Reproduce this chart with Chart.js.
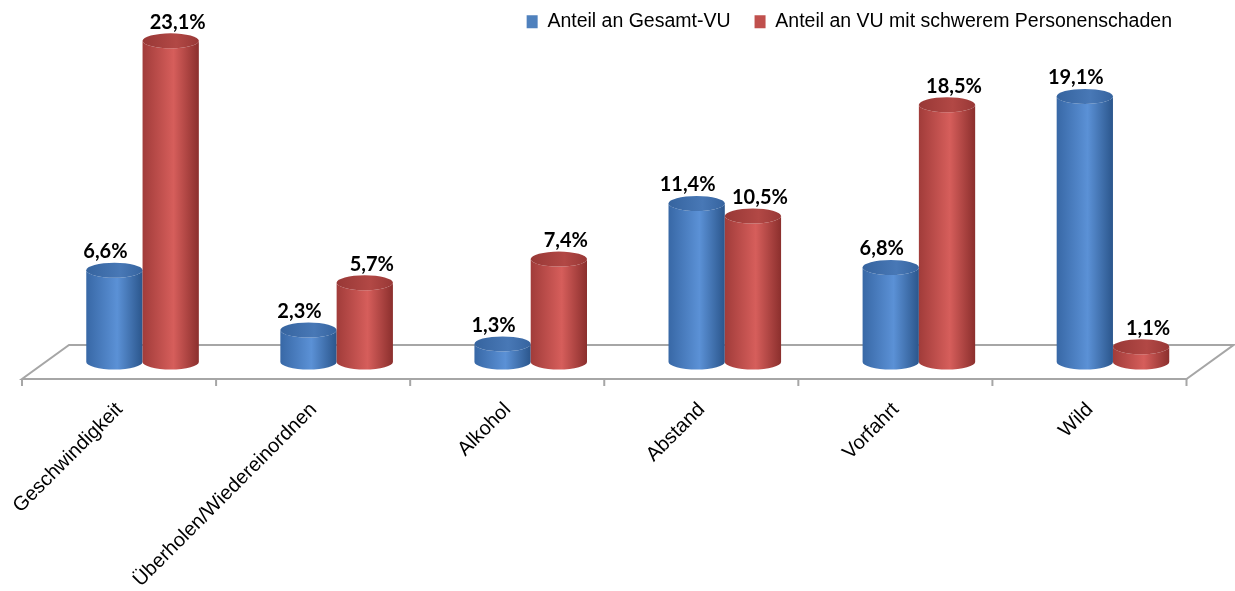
<!DOCTYPE html>
<html lang="de">
<head>
<meta charset="utf-8">
<title>Unfallursachen</title>
<script src="https://cdn.jsdelivr.net/npm/chart.js@4.4.1/dist/chart.umd.min.js"></script>
<style>
  html, body { margin: 0; padding: 0; background: #fff; }
  #wrap { width: 1235px; height: 591px; position: relative; }
</style>
</head>
<body>
<div id="wrap"><canvas id="chart"></canvas></div>
<script>
// categories and values (percent)
const categories = ['Geschwindigkeit', 'Überholen/Wiedereinordnen', 'Alkohol', 'Abstand', 'Vorfahrt', 'Wild'];
const seriesNames = ['Anteil an Gesamt-VU', 'Anteil an VU mit schwerem Personenschaden'];
const gesamtVU = [6.6, 2.3, 1.3, 11.4, 6.8, 19.1];
const schwererPS = [23.1, 5.7, 7.4, 10.5, 18.5, 1.1];

const labelFont = "'Liberation Sans', Arial, sans-serif";
const valueFont = "Lato, 'Open Sans', sans-serif";

// cylinder shading per series
const cylColors = [
  { left: '#3868a6', light: '#5b91d6', right: '#2b568c', cap: '#36649f', capLight: '#4878b6' },
  { left: '#a13c3a', light: '#d65e5b', right: '#8b2f2d', cap: '#983836', capLight: '#b24845' }
];
const legendColors = ['#4f81bd', '#c0504d'];

// fake 3D floor depth
const depthX = 23.5, depthY = 17;

function fmt(v) {
    return v.toFixed(1).replace('.', ',') + '%';
}

function drawCylinder(ctx, bar, c) {
    const cx = bar.x, rx = bar.width / 2, top = bar.y, base = bar.base, ry = 7.5;
    const g = ctx.createLinearGradient(cx - rx, 0, cx + rx, 0);
    g.addColorStop(0, c.left);
    g.addColorStop(0.55, c.light);
    g.addColorStop(1, c.right);
    ctx.beginPath();
    ctx.moveTo(cx - rx, top);
    ctx.lineTo(cx - rx, base);
    ctx.ellipse(cx, base, rx, ry, 0, Math.PI, 0, true);
    ctx.lineTo(cx + rx, top);
    ctx.ellipse(cx, top, rx, ry, 0, 0, Math.PI, false);
    ctx.closePath();
    ctx.fillStyle = g;
    ctx.fill();

    // top cap
    const cg = ctx.createLinearGradient(cx - rx, top, cx + rx, top);
    cg.addColorStop(0, c.cap);
    cg.addColorStop(0.6, c.capLight);
    cg.addColorStop(1, c.cap);
    ctx.beginPath();
    ctx.ellipse(cx, top, rx, ry, 0, 0, Math.PI * 2);
    ctx.fillStyle = cg;
    ctx.fill();
}

const cylinderPlugin = {
    id: 'cylinders',
    afterLayout(chart) {
        // legend sits a bit in from the right edge
        if (chart.legend) chart.legend.right -= 14;
    },
    beforeDatasetsDraw(chart) {
        const ctx = chart.ctx;
        const xs = chart.scales.x, ys = chart.scales.y;
        const y0 = ys.getPixelForValue(0);

        // floor
        ctx.save();
        ctx.strokeStyle = '#a6a6a6';
        ctx.lineWidth = 2;
        ctx.beginPath();
        ctx.moveTo(xs.left - depthX, y0 + depthY);
        ctx.lineTo(xs.right - depthX, y0 + depthY);
        ctx.lineTo(xs.right + depthX, y0 - depthY);
        ctx.lineTo(xs.left + depthX, y0 - depthY);
        ctx.closePath();
        ctx.stroke();

        // tick marks on the front edge
        const step = (xs.right - xs.left) / categories.length;
        ctx.beginPath();
        for (let i = 0; i <= categories.length; i++) {
            const tx = xs.getPixelForValue(0) - step / 2 + i * step - depthX;
            ctx.moveTo(tx, y0 + depthY);
            ctx.lineTo(tx, y0 + depthY + 7);
        }
        ctx.stroke();

        for (let i = 0; i < categories.length; i++) {
            chart.data.datasets.forEach((ds, d) => {
                const meta = chart.getDatasetMeta(d);
                if (meta.hidden) return;
                drawCylinder(ctx, meta.data[i], cylColors[d]);
            });
        }
        ctx.restore();
        return false; // skip the flat bars
    },
    afterDraw(chart) {
        const ctx = chart.ctx;
        const offs = [-9, 7];
        ctx.save();
        ctx.font = 'bold 20px ' + valueFont;
        ctx.fillStyle = '#000';
        ctx.textAlign = 'center';
        ctx.textBaseline = 'alphabetic';
        chart.data.datasets.forEach((ds, d) => {
            const meta = chart.getDatasetMeta(d);
            meta.data.forEach((bar, i) => {
                ctx.fillText(fmt(ds.data[i]), bar.x + offs[d], bar.y - 12);
            });
        });
        ctx.restore();
    }
};

new Chart(document.getElementById('chart'), {
    type: 'bar',
    data: {
        labels: categories,
        datasets: [
            { label: seriesNames[0], data: gesamtVU, backgroundColor: legendColors[0], borderWidth: 0 },
            { label: seriesNames[1], data: schwererPS, backgroundColor: legendColors[1], borderWidth: 0 }
        ]
    },
    options: {
        responsive: true,
        maintainAspectRatio: false,
        animation: false,
        layout: { padding: { left: 43, right: 25, top: -12, bottom: 0 } },
        datasets: { bar: { categoryPercentage: 0.58, barPercentage: 1 } },
        plugins: {
            legend: {
                position: 'top',
                align: 'end',
                labels: {
                    color: '#000',
                    font: { family: labelFont, size: 19.5 },
                    boxWidth: 11,
                    boxHeight: 13,
                    padding: 24
                }
            },
            tooltip: { enabled: false }
        },
        scales: {
            x: {
                grid: { display: false, drawTicks: false },
                border: { display: false },
                ticks: {
                    color: '#000',
                    font: { family: labelFont, size: 20 },
                    minRotation: 45,
                    maxRotation: 45,
                    autoSkip: false,
                    labelOffset: -23,
                    padding: 36
                },
                afterFit(scale) { scale.height = 229; }
            },
            y: { display: false, min: 0, max: 23.05 }
        }
    },
    plugins: [cylinderPlugin]
});
</script>
</body>
</html>
